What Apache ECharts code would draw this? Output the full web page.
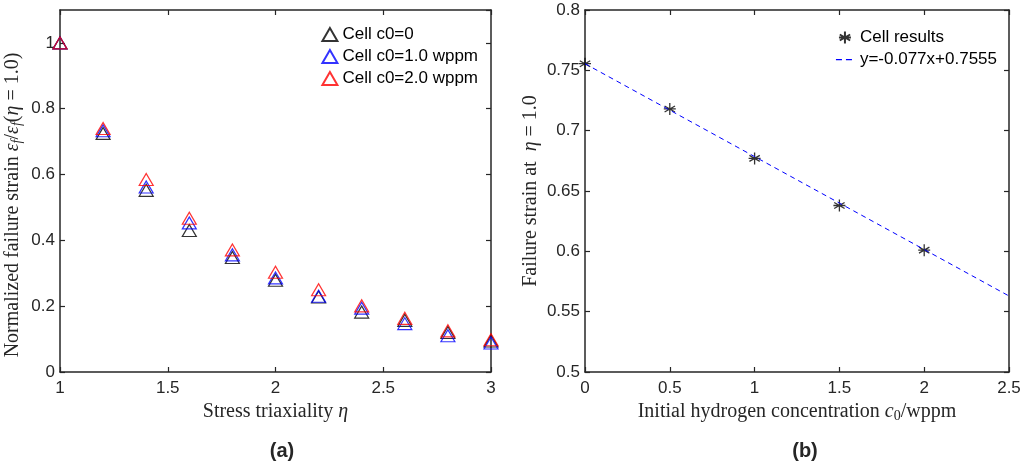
<!DOCTYPE html>
<html><head><meta charset="utf-8">
<script src="https://cdn.jsdelivr.net/npm/echarts@6/dist/echarts.min.js"></script>
<style>html,body{margin:0;padding:0;background:#fff}#c{width:1031px;height:465px}</style>
</head><body><div id="c"></div>
<script>
// Panel (a) data
const triaxiality = [1.0, 1.2, 1.4, 1.6, 1.8, 2.0, 2.2, 2.4, 2.6, 2.8, 3.0];
const strainC0 = [1.0, 0.725, 0.552, 0.430, 0.348, 0.279, 0.228, 0.182, 0.157, 0.120, 0.094];
const strainC1 = [1.0, 0.733, 0.562, 0.453, 0.356, 0.286, 0.230, 0.194, 0.147, 0.110, 0.088];
const strainC2 = [1.0, 0.740, 0.585, 0.467, 0.371, 0.303, 0.250, 0.201, 0.163, 0.125, 0.098];
// Panel (b) data
const concentration = [0, 0.5, 1.0, 1.5, 2.0];
const failureStrain = [0.7555, 0.718, 0.677, 0.638, 0.601];
const fitX = [0, 2.5];
const fitY = [0.7555, 0.563];

const AX = '#262626';
const SANS = 'Liberation Sans, Arial, sans-serif';
const SERIF = 'Liberation Serif, DejaVu Serif, serif';
const pair = (xs, ys) => xs.map((x, i) => [x, ys[i]]);

function axisBase(extra) {
  return Object.assign({
    type: 'value',
    axisLine: { show: true, onZero: false, lineStyle: { color: AX, width: 1.5 } },
    axisTick: { show: true, inside: true, length: 5, lineStyle: { color: AX, width: 1.2 } },
    axisLabel: { color: AX, fontFamily: SANS, fontSize: 17 },
    splitLine: { show: false }
  }, extra);
}
function mirror(base) {
  const m = JSON.parse(JSON.stringify(base));
  m.axisLabel = { show: false };
  delete m.name;
  return m;
}

const nameRich = {
  n: { fontFamily: SERIF, fontSize: 20, color: AX },
  e: { fontFamily: SERIF, fontSize: 20, color: AX, fontStyle: 'italic' },
  s: { fontFamily: SERIF, fontSize: 14, color: AX, fontStyle: 'italic', verticalAlign: 'bottom', padding: [9, 0, 0, 0] },
  s0: { fontFamily: SERIF, fontSize: 14, color: AX, verticalAlign: 'bottom', padding: [9, 0, 0, 0] }
};

const xa0 = axisBase({ position: 'bottom', min: 1, max: 3, interval: 0.5,
  name: '{n|Stress triaxiality }{e|η}', nameLocation: 'middle', nameGap: 27,
  nameTextStyle: { rich: nameRich } });
const ya0 = axisBase({ position: 'left', min: 0, max: 1.1, interval: 0.2,
  axisLabel: { color: AX, fontFamily: SANS, fontSize: 17, showMaxLabel: false, margin: 5 },
  name: '{n|Normalized failure strain }{e|ε}{s|f}{n|/}{e|ε}{s|f}{n|(}{e|η}{n| = 1.0)}',
  nameLocation: 'middle', nameGap: 36, nameTextStyle: { rich: nameRich, padding: [0, 28, 0, 0] } });
const xa1 = axisBase({ position: 'bottom', min: 0, max: 2.5, interval: 0.5,
  name: '{n|Initial hydrogen concentration }{e|c}{s0|0}{n|/wppm}', nameLocation: 'middle', nameGap: 27,
  nameTextStyle: { rich: nameRich } });
const ya1 = axisBase({ position: 'left', min: 0.5, max: 0.8, interval: 0.05,
  axisLabel: { color: AX, fontFamily: SANS, fontSize: 17, margin: 5 },
  name: '{n|Failure strain at  }{e|η}{n| = 1.0}', nameLocation: 'middle', nameGap: 44,
  nameTextStyle: { rich: nameRich } });

const xt0 = mirror(xa0); xt0.position = 'top';
const yr0 = mirror(ya0); yr0.position = 'right';
const xt1 = mirror(xa1); xt1.position = 'top';
const yr1 = mirror(ya1); yr1.position = 'right';

function tri(name, data, color) {
  return { name, type: 'scatter', xAxisIndex: 0, yAxisIndex: 0, data,
    symbol: 'triangle', symbolSize: [14, 12],
    itemStyle: { color: 'rgba(0,0,0,0)', borderColor: color, borderWidth: 1.2 } };
}

const star = 'path://M0,-6L0,6M-5.2,-3L5.2,3M-5.2,3L5.2,-3M-6,0L6,0';
const dashIcon = 'path://M0,0M20,12M1,5.4h6v1.3h-6zM11,5.4h6v1.3h-6z';

const option = {
  animation: false,
  backgroundColor: '#fff',
  title: [
    { text: '(a)', left: 277, top: 436, textAlign: 'center',
      textStyle: { fontFamily: SANS, fontWeight: 'bold', fontSize: 20, color: AX } },
    { text: '(b)', left: 800, top: 436, textAlign: 'center',
      textStyle: { fontFamily: SANS, fontWeight: 'bold', fontSize: 20, color: AX } }
  ],
  grid: [
    { left: 60, top: 10, width: 431, bottom: 93 },
    { left: 585, top: 10, width: 424, bottom: 93 }
  ],
  legend: [
    { orient: 'vertical', right: 548, top: 19, itemGap: 1, itemWidth: 15, itemHeight: 13,
      textStyle: { fontFamily: SANS, fontSize: 17, lineHeight: 21, color: '#000' },
      data: ['Cell c0=0', 'Cell c0=1.0 wppm', 'Cell c0=2.0 wppm'] },
    { orient: 'vertical', right: 29, top: 22, itemGap: 1, itemWidth: 20, itemHeight: 12,
      textStyle: { fontFamily: SANS, fontSize: 17, lineHeight: 21, color: '#000' },
      data: [{ name: 'Cell results' },
             { name: 'y=-0.077x+0.7555', icon: dashIcon, itemStyle: { color: '#0000ff' } }] }
  ],
  xAxis: [xa0, xt0, xa1, xt1].map((a, i) => Object.assign(a, { gridIndex: i < 2 ? 0 : 1 })),
  yAxis: [ya0, yr0, ya1, yr1].map((a, i) => Object.assign(a, { gridIndex: i < 2 ? 0 : 1 })),
  series: [
    tri('Cell c0=0', pair(triaxiality, strainC0), '#000000'),
    tri('Cell c0=1.0 wppm', pair(triaxiality, strainC1), '#0000ff'),
    tri('Cell c0=2.0 wppm', pair(triaxiality, strainC2), '#ff0000'),
    { name: 'y=-0.077x+0.7555', type: 'line', xAxisIndex: 2, yAxisIndex: 2,
      data: pair(fitX, fitY), symbol: 'none', showSymbol: false,
      lineStyle: { color: '#0000ff', width: 1, type: [5, 4] }, itemStyle: { color: '#0000ff' } },
    { name: 'Cell results', type: 'scatter', xAxisIndex: 2, yAxisIndex: 2,
      data: pair(concentration, failureStrain), symbol: star, symbolSize: 12, symbolKeepAspect: true,
      itemStyle: { color: 'none', borderColor: '#000', borderWidth: 1.3 } }
  ]
};
const chart = echarts.init(document.getElementById('c'), null, { renderer: 'canvas' });
chart.setOption(option);
</script></body></html>
